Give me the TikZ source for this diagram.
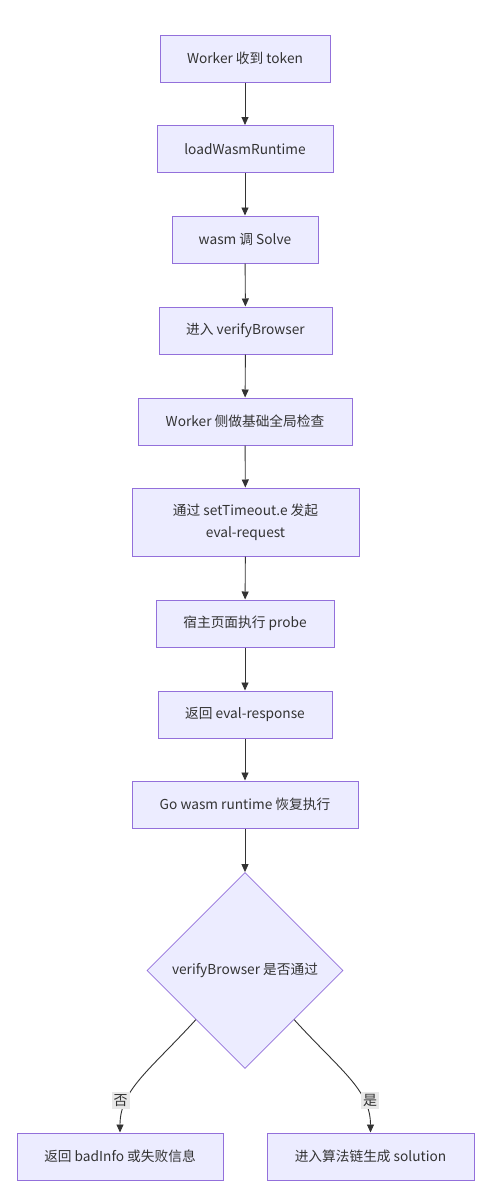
\documentclass[tikz,border=0pt]{standalone}
\usepackage{fontspec}
\setmainfont{Noto Sans CJK SC}
\usetikzlibrary{arrows.meta,shapes.geometric}
\definecolor{boxfill}{HTML}{ECECFF}
\definecolor{boxdraw}{HTML}{9370DB}
\definecolor{ink}{HTML}{333333}
\definecolor{lblbg}{HTML}{E8E8E8}
\begin{document}
\begin{tikzpicture}[x=1pt,y=-1pt,
  proc/.style={rectangle, draw=boxdraw, fill=boxfill, line width=1pt, text=ink,
    font=\fontsize{13.7}{22}\selectfont, minimum height=47pt, inner sep=0pt, align=center},
  dec/.style={diamond, draw=boxdraw, fill=boxfill, line width=0.8pt, text=ink,
    font=\fontsize{13.7}{22}\selectfont, minimum width=196pt, minimum height=196pt, inner sep=0pt},
  arr/.style={draw=ink, line width=0.9pt, -{Triangle[length=8pt,width=7pt]}},
  lbl/.style={fill=lblbg, text=ink, inner sep=2pt, font=\fontsize{14}{16}\selectfont}]
\useasboundingbox (0,0) rectangle (498,1194);
\fill[white] (0,0) rectangle (498,1194);

\node[proc, minimum width=170pt] (n1) at (245,58.5) {Worker 收到 token};
\node[proc, minimum width=176pt] (n2) at (245,149) {loadWasmRuntime};
\node[proc, minimum width=146pt] (n3) at (245,239.5) {wasm 调 Solve};
\node[proc, minimum width=173pt] (n4) at (245.5,330.5) {进入 verifyBrowser};
\node[proc, minimum width=214pt] (n5) at (245,421.5) {Worker 侧做基础全局检查};
\node[proc, minimum width=227pt, minimum height=68pt] (n6) at (245.5,522) {通过 setTimeout.e 发起\\eval-request};
\node[proc, minimum width=178pt] (n7) at (245,623.5) {宿主页面执行 probe};
\node[proc, minimum width=174pt] (n8) at (245,714.5) {返回 eval-response};
\node[proc, minimum width=226pt] (n9) at (245,804.5) {Go wasm runtime 恢复执行};
\node[dec] (d) at (245,970.5) {verifyBrowser 是否通过};
\node[proc, minimum width=206pt] (no) at (120,1156.5) {返回 badInfo 或失败信息};
\node[proc, minimum width=207pt] (yes) at (370.5,1156.5) {进入算法链生成 solution};

\draw[arr] (n1) -- (n2);
\draw[arr] (n2) -- (n3);
\draw[arr] (n3) -- (n4);
\draw[arr] (n4) -- (n5);
\draw[arr] (n5) -- (n6);
\draw[arr] (n6) -- (n7);
\draw[arr] (n7) -- (n8);
\draw[arr] (n8) -- (n9);
\draw[arr] (n9) -- (d);

\draw[arr] (d.south west) .. controls (150,1070) and (120,1090) .. (no.north);
\draw[arr] (d.south east) .. controls (340,1070) and (370.5,1090) .. (yes.north);

\node[lbl] (lno) at (120.5,1100.5) {否};
\node[lbl] (lyes) at (370,1100.5) {是};
\end{tikzpicture}
\end{document}
